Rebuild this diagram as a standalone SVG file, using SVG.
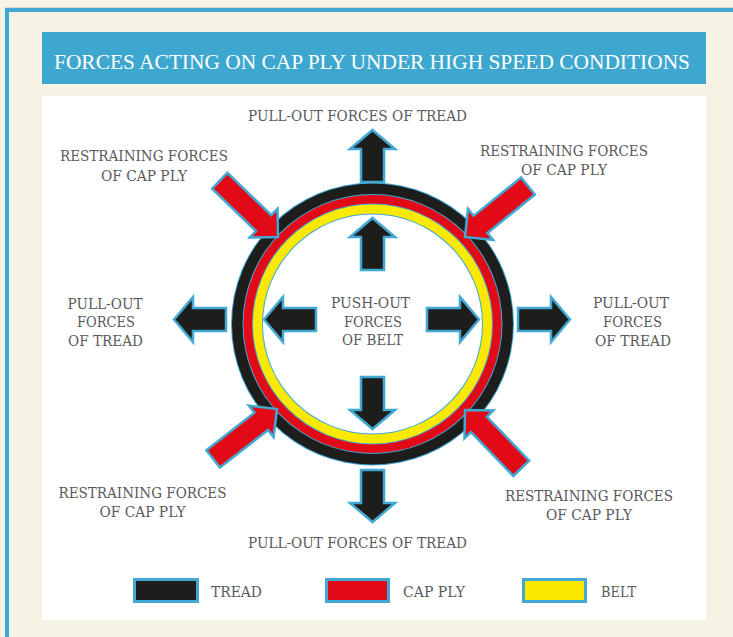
<svg xmlns="http://www.w3.org/2000/svg" width="733" height="637" viewBox="0 0 733 637">
<style>
.lbl{font-family:"DejaVu Serif","Liberation Serif",serif;font-size:14px;fill:#58595b;text-anchor:middle}
.leg{font-family:"DejaVu Serif","Liberation Serif",serif;font-size:14px;fill:#58595b}
.ttl{font-family:"Liberation Serif","DejaVu Serif",serif;font-size:20.5px;fill:#ffffff;text-anchor:middle}
.blk{fill:#1d1d1b;stroke:#41a8d3;stroke-width:2.5;stroke-linejoin:miter}
.red{fill:#e20a16;stroke:#41a8d3;stroke-width:2.5;stroke-linejoin:miter}
.box{stroke:#41a8d3;stroke-width:3}
</style>
<defs>
<polygon id="barrow" points="0,0 22.5,19 11.5,19 11.5,52 -11.5,52 -11.5,19 -22.5,19"/>
<polygon id="rarrow" points="0,0 -20,20 -20,11 -81,11 -81,-11 -20,-11 -20,-20"/>
</defs>
<rect x="0" y="0" width="733" height="637" fill="#f6f3e5"/>
<line x1="4" y1="7.5" x2="733" y2="7.5" stroke="#d9dcd6" stroke-width="1"/>
<rect x="7" y="10" width="800" height="700" fill="none" stroke="#41a8d3" stroke-width="4"/>
<g id="title">
<rect x="42" y="32" width="664" height="52" fill="#3ea7cf"/>
<text class="ttl" x="372" y="69" textLength="636" lengthAdjust="spacingAndGlyphs">FORCES ACTING ON CAP PLY UNDER HIGH SPEED CONDITIONS</text>
</g>
<rect x="42" y="96" width="664" height="524" fill="#ffffff"/>
<g id="tyre">
<circle cx="372.5" cy="324" r="141.5" fill="#41a8d3"/>
<circle cx="372.5" cy="324" r="140.5" fill="#1d1d1b"/>
<circle cx="372.5" cy="324" r="130" fill="#41a8d3"/>
<circle cx="372.5" cy="324" r="129" fill="#e20a16"/>
<circle cx="372.5" cy="324" r="120.5" fill="#41a8d3"/>
<circle cx="372.5" cy="324" r="119.5" fill="#fbe900"/>
<circle cx="372.5" cy="324" r="110.5" fill="#41a8d3"/>
<circle cx="372.5" cy="324" r="109.5" fill="#ffffff"/>
</g>
<g id="connectors">
<use href="#barrow" class="blk" transform="translate(372.5,130)"/>
<use href="#barrow" class="blk" transform="translate(372.5,218)"/>
<use href="#barrow" class="blk" transform="translate(372.5,429) rotate(180)"/>
<use href="#barrow" class="blk" transform="translate(372.5,522) rotate(180)"/>
<use href="#barrow" class="blk" transform="translate(174,319.5) rotate(-90)"/>
<use href="#barrow" class="blk" transform="translate(264,319.5) rotate(-90)"/>
<use href="#barrow" class="blk" transform="translate(479,319.5) rotate(90)"/>
<use href="#barrow" class="blk" transform="translate(570,319.5) rotate(90)"/>
<use href="#rarrow" class="red" transform="translate(278,237) rotate(44)"/>
<use href="#rarrow" class="red" transform="translate(465,237) rotate(141)"/>
<use href="#rarrow" class="red" transform="translate(277,409) rotate(-38)"/>
<use href="#rarrow" class="red" transform="translate(465,410) rotate(-134)"/>
</g>
<g id="label-top"><text class="lbl" x="357.5" y="121" textLength="219" lengthAdjust="spacingAndGlyphs">PULL-OUT FORCES OF TREAD</text></g>
<g id="label-bottom"><text class="lbl" x="357.5" y="548" textLength="219" lengthAdjust="spacingAndGlyphs">PULL-OUT FORCES OF TREAD</text></g>
<g id="label-tl">
<text class="lbl" x="144" y="161" textLength="168" lengthAdjust="spacingAndGlyphs">RESTRAINING FORCES</text>
<text class="lbl" x="144" y="181" textLength="86" lengthAdjust="spacingAndGlyphs">OF CAP PLY</text>
</g>
<g id="label-tr">
<text class="lbl" x="564" y="156" textLength="168" lengthAdjust="spacingAndGlyphs">RESTRAINING FORCES</text>
<text class="lbl" x="564" y="175" textLength="86" lengthAdjust="spacingAndGlyphs">OF CAP PLY</text>
</g>
<g id="label-bl">
<text class="lbl" x="142.5" y="498" textLength="168" lengthAdjust="spacingAndGlyphs">RESTRAINING FORCES</text>
<text class="lbl" x="142.5" y="517" textLength="86" lengthAdjust="spacingAndGlyphs">OF CAP PLY</text>
</g>
<g id="label-br">
<text class="lbl" x="589" y="501" textLength="168" lengthAdjust="spacingAndGlyphs">RESTRAINING FORCES</text>
<text class="lbl" x="589" y="520" textLength="86" lengthAdjust="spacingAndGlyphs">OF CAP PLY</text>
</g>
<g id="label-left">
<text class="lbl" x="105" y="309" textLength="75" lengthAdjust="spacingAndGlyphs">PULL-OUT</text>
<text class="lbl" x="106" y="327" textLength="58" lengthAdjust="spacingAndGlyphs">FORCES</text>
<text class="lbl" x="105.5" y="346" textLength="75" lengthAdjust="spacingAndGlyphs">OF TREAD</text>
</g>
<g id="label-right">
<text class="lbl" x="631" y="308" textLength="76" lengthAdjust="spacingAndGlyphs">PULL-OUT</text>
<text class="lbl" x="632.5" y="327" textLength="59" lengthAdjust="spacingAndGlyphs">FORCES</text>
<text class="lbl" x="633" y="346" textLength="76" lengthAdjust="spacingAndGlyphs">OF TREAD</text>
</g>
<g id="label-center">
<text class="lbl" x="370.5" y="308" textLength="79" lengthAdjust="spacingAndGlyphs">PUSH-OUT</text>
<text class="lbl" x="373" y="327" textLength="58" lengthAdjust="spacingAndGlyphs">FORCES</text>
<text class="lbl" x="372.5" y="345" textLength="61" lengthAdjust="spacingAndGlyphs">OF BELT</text>
</g>
<g id="legend-tread">
<rect class="box" x="134.5" y="579.5" width="63" height="22" fill="#1d1d1b"/>
<text class="leg" x="211" y="597" textLength="51" lengthAdjust="spacingAndGlyphs">TREAD</text>
</g>
<g id="legend-capply">
<rect class="box" x="326.5" y="579.5" width="62" height="22" fill="#e20a16"/>
<text class="leg" x="403" y="597" textLength="62" lengthAdjust="spacingAndGlyphs">CAP PLY</text>
</g>
<g id="legend-belt">
<rect class="box" x="523.5" y="579.5" width="62" height="22" fill="#fbe900"/>
<text class="leg" x="601" y="597" textLength="35" lengthAdjust="spacingAndGlyphs">BELT</text>
</g>
</svg>
